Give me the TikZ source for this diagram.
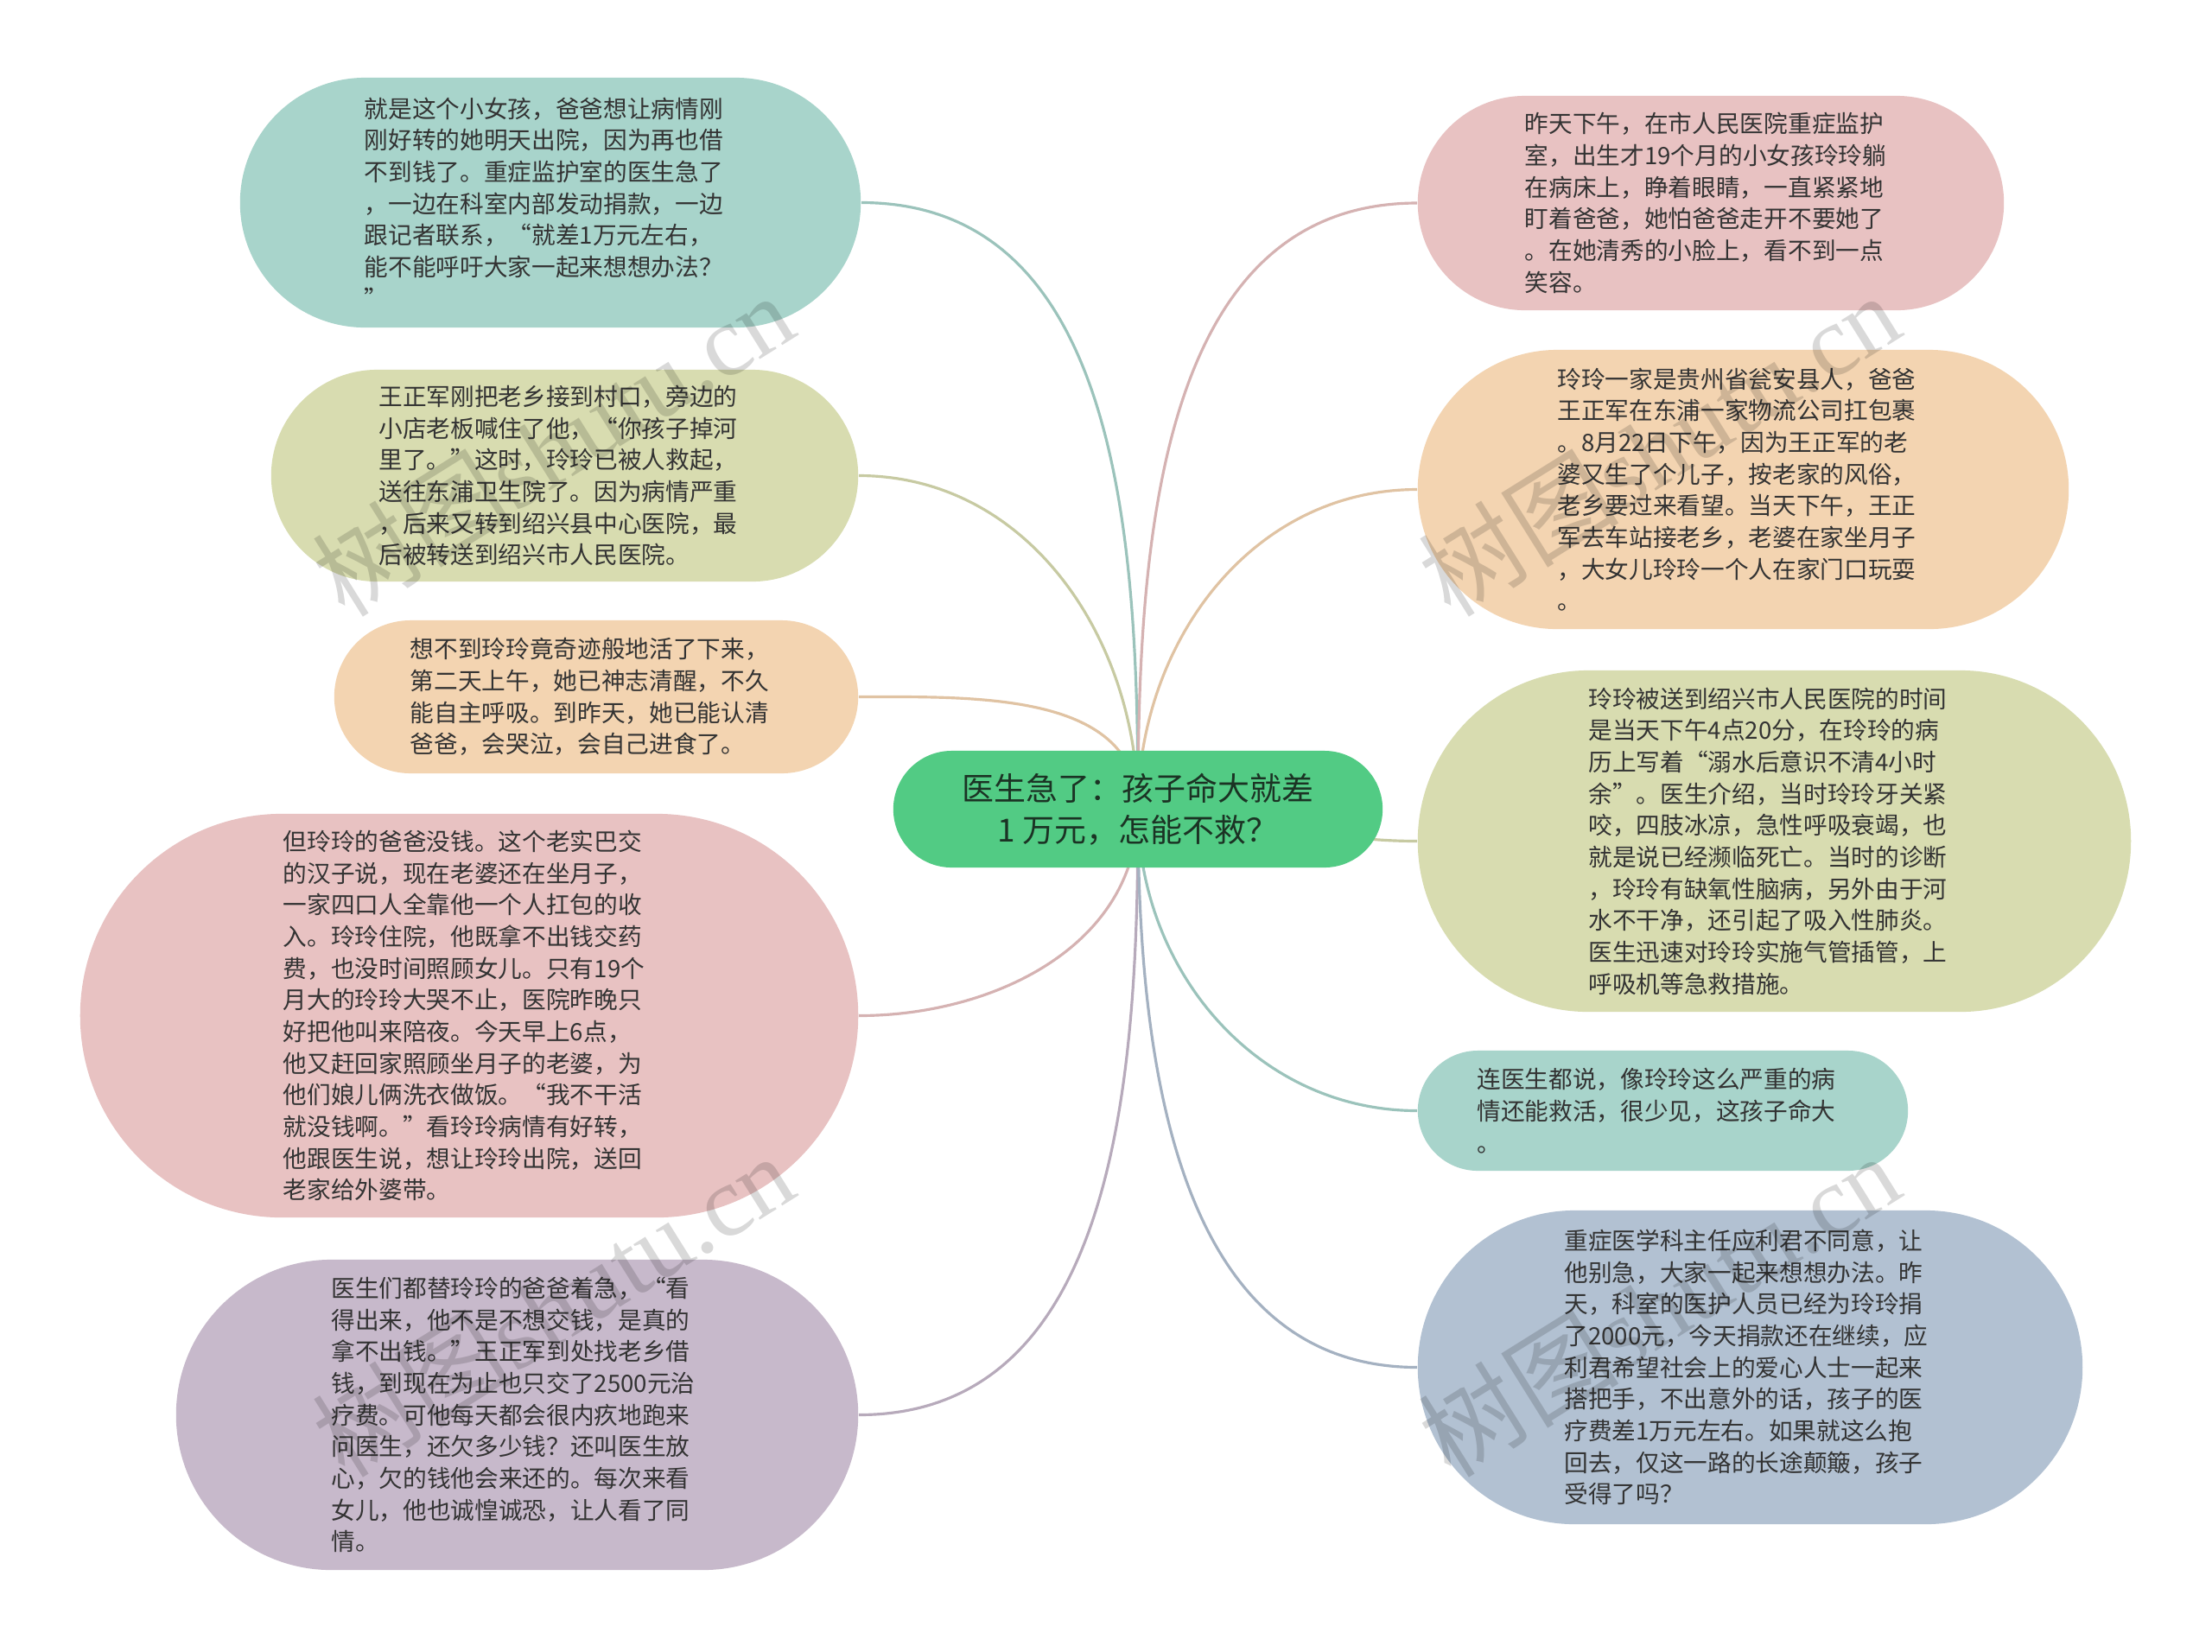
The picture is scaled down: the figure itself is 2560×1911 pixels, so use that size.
\documentclass[tikz,border=0pt]{standalone}
\usepackage{fontspec}
\setmainfont{Noto Sans CJK SC}
\newfontfamily\wmlatin{Liberation Serif}
\usetikzlibrary{shapes.misc,backgrounds}
\definecolor{AGreen}{HTML}{52CB84}
\definecolor{ATeal}{HTML}{A8D4CB}
\definecolor{AOlive}{HTML}{D8DCB0}
\definecolor{APeach}{HTML}{F3D4B1}
\definecolor{ARose}{HTML}{E8C2C2}
\definecolor{AMauve}{HTML}{C7B9CB}
\definecolor{ASteel}{HTML}{B2C1D2}
\definecolor{AText}{HTML}{333333}
\definecolor{ATopic}{HTML}{1B3324}
\tikzset{
    topic/.style = {rounded rectangle, fill=AGreen,
        minimum height=1.35cm,
        minimum width=5.66cm, inner sep=0pt, align=center,
        text=ATopic, font=\fontsize{10.5pt}{13.8pt}\selectfont},
    leaf/.style = {rounded rectangle, inner xsep=0pt, inner ysep=0pt,
        text width=4.3cm, align=left,
        text=AText, font=\fontsize{7.87pt}{10.43pt}\selectfont},
    link/.style = {draw, line width=0.9pt},
    wmark/.style = {rotate=32, text=black, text opacity=0.15,
        font=\fontsize{33pt}{33pt}\selectfont}
}

\begin{document}
\begin{tikzpicture}[x=0.01cm,y=-0.01cm]
    \useasboundingbox (0,0) rectangle (2560,1911);
    \node [topic] (root) at (1317,936.5) {医生急了：孩子命大就差\\1 万元，怎能不救？};
    \node [leaf, fill=ATeal, minimum width=7.18cm, minimum height=2.89cm] (l1) at (637,234.5) {就是这个小女孩，爸爸想让病情刚\\刚好转的她明天出院，因为再也借\\不到钱了。重症监护室的医生急了\\，一边在科室内部发动捐款，一边\\跟记者联系，“就差1万元左右，\\能不能呼吁大家一起来想想办法？\\”};
    \node [leaf, fill=AOlive, minimum width=6.79cm, minimum height=2.45cm] (l2) at (653.5,550.5) {王正军刚把老乡接到村口，旁边的\\小店老板喊住了他，“你孩子掉河\\里了。”这时，玲玲已被人救起，\\送往东浦卫生院了。因为病情严重\\，后来又转到绍兴县中心医院，最\\后被转送到绍兴市人民医院。};
    \node [leaf, fill=APeach, minimum width=6.06cm, minimum height=1.77cm] (l3) at (690,806.5) {想不到玲玲竟奇迹般地活了下来，\\第二天上午，她已神志清醒，不久\\能自主呼吸。到昨天，她已能认清\\爸爸，会哭泣，会自己进食了。};
    \node [leaf, fill=ARose, minimum width=9.00cm, minimum height=4.67cm] (l4) at (543,1175.5) {但玲玲的爸爸没钱。这个老实巴交\\的汉子说，现在老婆还在坐月子，\\一家四口人全靠他一个人扛包的收\\入。玲玲住院，他既拿不出钱交药\\费，也没时间照顾女儿。只有19个\\月大的玲玲大哭不止，医院昨晚只\\好把他叫来陪夜。今天早上6点，\\他又赶回家照顾坐月子的老婆，为\\他们娘儿俩洗衣做饭。“我不干活\\就没钱啊。”看玲玲病情有好转，\\他跟医生说，想让玲玲出院，送回\\老家给外婆带。};
    \node [leaf, fill=AMauve, minimum width=7.89cm, minimum height=3.59cm] (l5) at (598.5,1637.5) {医生们都替玲玲的爸爸着急，“看\\得出来，他不是不想交钱，是真的\\拿不出钱。”王正军到处找老乡借\\钱，到现在为止也只交了2500元治\\疗费。可他每天都会很内疚地跑来\\问医生，还欠多少钱？还叫医生放\\心，欠的钱他会来还的。每次来看\\女儿，他也诚惶诚恐，让人看了同\\情。};
    \node [leaf, fill=ARose, minimum width=6.78cm, minimum height=2.48cm] (r1) at (1980,235) {昨天下午，在市人民医院重症监护\\室，出生才19个月的小女孩玲玲躺\\在病床上，睁着眼睛，一直紧紧地\\盯着爸爸，她怕爸爸走开不要她了\\。在她清秀的小脸上，看不到一点\\笑容。};
    \node [leaf, fill=APeach, minimum width=7.53cm, minimum height=3.23cm] (r2) at (2017.5,566.5) {玲玲一家是贵州省瓮安县人，爸爸\\王正军在东浦一家物流公司扛包裹\\。8月22日下午，因为王正军的老\\婆又生了个儿子，按老家的风俗，\\老乡要过来看望。当天下午，王正\\军去车站接老乡，老婆在家坐月子\\，大女儿玲玲一个人在家门口玩耍\\。};
    \node [leaf, fill=AOlive, minimum width=8.25cm, minimum height=3.95cm] (r3) at (2053.5,973.5) {玲玲被送到绍兴市人民医院的时间\\是当天下午4点20分，在玲玲的病\\历上写着“溺水后意识不清4小时\\余”。医生介绍，当时玲玲牙关紧\\咬，四肢冰凉，急性呼吸衰竭，也\\就是说已经濒临死亡。当时的诊断\\，玲玲有缺氧性脑病，另外由于河\\水不干净，还引起了吸入性肺炎。\\医生迅速对玲玲实施气管插管，上\\呼吸机等急救措施。};
    \node [leaf, fill=ATeal, minimum width=5.67cm, minimum height=1.39cm] (r4) at (1924.5,1285.5) {连医生都说，像玲玲这么严重的病\\情还能救活，很少见，这孩子命大\\。};
    \node [leaf, fill=ASteel, minimum width=7.69cm, minimum height=3.63cm] (r5) at (2025.5,1582.5) {重症医学科主任应利君不同意，让\\他别急，大家一起来想想办法。昨\\天，科室的医护人员已经为玲玲捐\\了2000元，今天捐款还在继续，应\\利君希望社会上的爱心人士一起来\\搭把手，不出意外的话，孩子的医\\疗费差1万元左右。如果就这么抱\\回去，仅这一路的长途颠簸，孩子\\受得了吗？};
    \begin{pgfonlayer}{background}
        \fill [white] (0,0) rectangle (2560,1911);
        \draw [link, ATeal!92!black] (root.center) to[out=90,in=0] (l1.east);
        \draw [link, AOlive!92!black] (root.center) to[out=90,in=0] (l2.east);
        \draw [link, APeach!92!black] (root.center) to[out=90,in=0] (l3.east);
        \draw [link, ARose!92!black] (root.center) to[out=-90,in=0] (l4.east);
        \draw [link, AMauve!92!black] (root.center) to[out=-90,in=0] (l5.east);
        \draw [link, ARose!92!black] (root.center) to[out=90,in=180] (r1.west);
        \draw [link, APeach!92!black] (root.center) to[out=90,in=180] (r2.west);
        \draw [link, AOlive!92!black] (root.center) to[out=0,in=180] (r3.west);
        \draw [link, ATeal!92!black] (root.center) to[out=-90,in=180] (r4.west);
        \draw [link, ASteel!92!black] (root.center) to[out=-90,in=180] (r5.west);
    \end{pgfonlayer}
    \node [wmark] (wm1) at (640,514) {树图{\wmlatin shutu.cn}};
    \node [wmark] (wm2) at (1920,514) {树图{\wmlatin shutu.cn}};
    \node [wmark] (wm3) at (640,1510) {树图{\wmlatin shutu.cn}};
    \node [wmark] (wm4) at (1920,1510) {树图{\wmlatin shutu.cn}};
\end{tikzpicture}
\end{document}
